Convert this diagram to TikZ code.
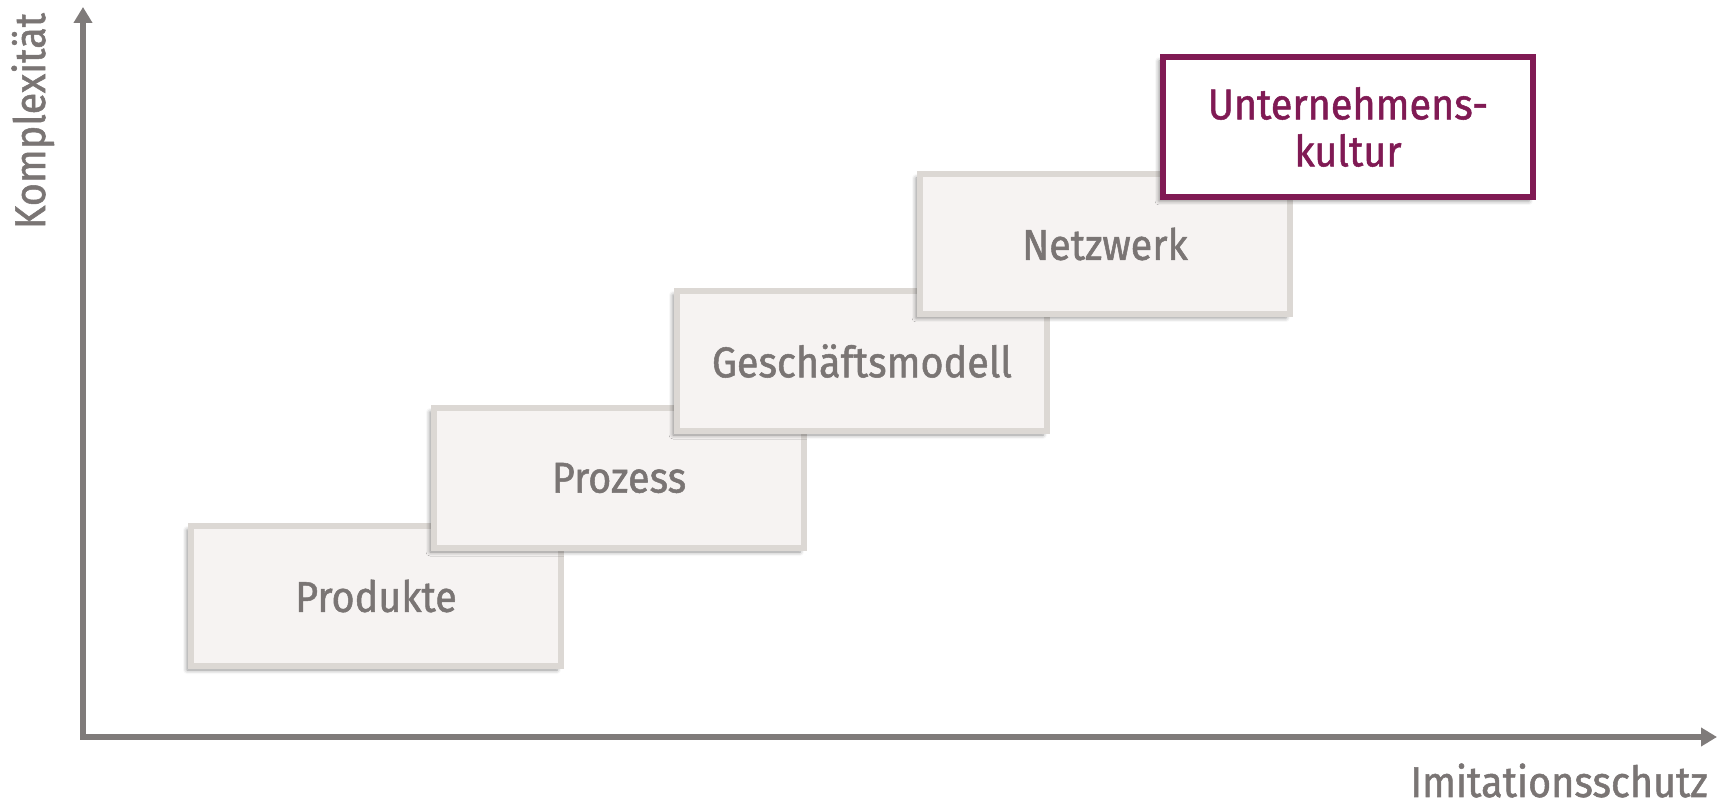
\documentclass[tikz,border=0pt]{standalone}
\usepackage{fontspec}
\setmainfont{Fira Sans}[FakeStretch=0.92, FakeBold=1.2]
\usetikzlibrary{arrows.meta,shadows.blur}

\definecolor{achsgrau}{HTML}{7F7B7A}
\definecolor{textgrau}{HTML}{7A7574}
\definecolor{randgrau}{HTML}{DCD8D4}
\definecolor{flaeche}{HTML}{F6F3F2}
\definecolor{weinrot}{HTML}{801A54}

\tikzset{
  stufe/.style={rectangle, draw=randgrau, fill=flaeche, line width=3pt,
    minimum width=185pt, minimum height=70pt, inner sep=0pt,
    text=textgrau, font=\fontsize{21.5}{23.5}\selectfont,
    blur shadow={shadow xshift=-2pt, shadow yshift=-2pt,
      shadow blur radius=2pt, shadow opacity=45}},
  ziel/.style={stufe, draw=weinrot, fill=white, text=weinrot, align=center},
  achse/.style={draw=achsgrau, line width=3pt, line join=miter,
    >={Triangle[length=8pt,width=9pt]}},
  achstext/.style={text=textgrau, font=\fontsize{21.5}{24}\selectfont, inner sep=0pt}
}

\begin{document}
\begin{tikzpicture}[x=0.5pt, y=-0.5pt]
    \useasboundingbox (0,0) rectangle (1725,806);

    % Axes
    \coordinate (O) at (83,737);
    \coordinate (ytop) at (83,7);
    \coordinate (xend) at (1717,737);
    \draw[achse, <->] (ytop) -- (O) -- (xend);

    % Axis labels
    \node[achstext, rotate=90, anchor=base] (komplex) at (45,121) {Komplexität};
    \node[achstext, anchor=base east] (imitation) at (1708,797) {Imitationsschutz};

    % Steps, from bottom left to top right
    \node[stufe] (produkte) at (376,596) {Produkte};
    \node[stufe] (prozess) at (619,478) {Prozess};
    \node[stufe] (modell) at (862,361) {Geschäftsmodell};
    \node[stufe] (netzwerk) at (1105,244) {Netzwerk};
    \node[ziel] (kultur) at (1348,127) {Unternehmens-\\kultur};
\end{tikzpicture}
\end{document}
